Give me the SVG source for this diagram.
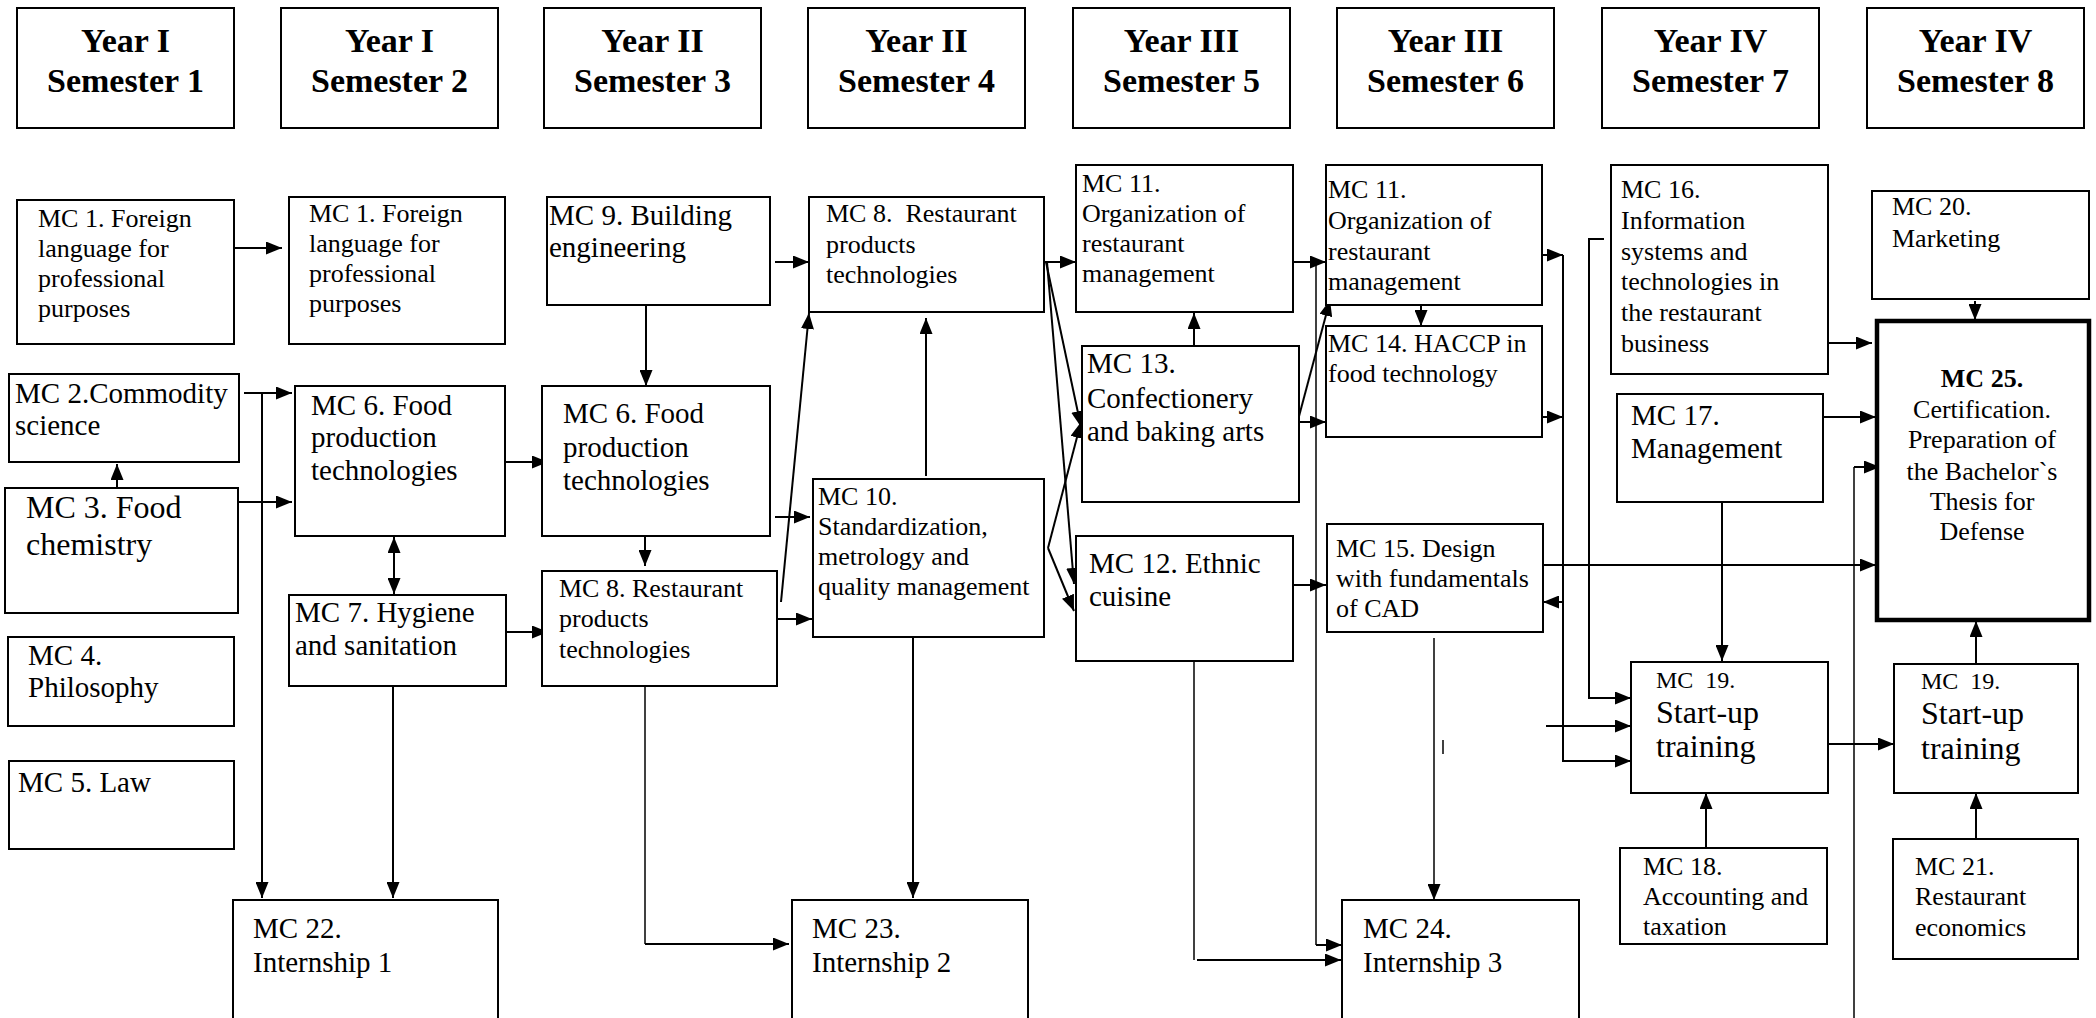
<svg xmlns="http://www.w3.org/2000/svg" width="2096" height="1018" viewBox="0 0 2096 1018">
<style>
text{font-family:"Liberation Serif","Times New Roman",serif;fill:#000}
.hdr{font-weight:bold;font-size:34px;text-anchor:middle}
.box{fill:#fff;stroke:#000;stroke-width:2}
.thick{fill:#fff;stroke:#000;stroke-width:4.5}
.s{font-size:26px}
.m{font-size:29px}
.l{font-size:32px}
.xs{font-size:24px}
.c{fill:none;stroke:#000;stroke-width:2}
.th{fill:none;stroke:#000;stroke-width:1.5}
</style>
<defs>
<marker id="a" markerUnits="userSpaceOnUse" markerWidth="16" markerHeight="13" refX="16" refY="6.5" orient="auto-start-reverse"><path d="M0,0 L16,6.5 L0,13 z" fill="#000"/></marker>
</defs>
<rect width="2096" height="1018" fill="#fff"/>

<g id="headers">
<g id="h1"><rect class="box" x="17" y="8" width="217" height="120"/><text class="hdr" x="125.5" y="52">Year I</text><text class="hdr" x="125.5" y="92">Semester 1</text></g>
<g id="h2"><rect class="box" x="281" y="8" width="217" height="120"/><text class="hdr" x="389.5" y="52">Year I</text><text class="hdr" x="389.5" y="92">Semester 2</text></g>
<g id="h3"><rect class="box" x="544" y="8" width="217" height="120"/><text class="hdr" x="652.5" y="52">Year II</text><text class="hdr" x="652.5" y="92">Semester 3</text></g>
<g id="h4"><rect class="box" x="808" y="8" width="217" height="120"/><text class="hdr" x="916.5" y="52">Year II</text><text class="hdr" x="916.5" y="92">Semester 4</text></g>
<g id="h5"><rect class="box" x="1073" y="8" width="217" height="120"/><text class="hdr" x="1181.5" y="52">Year III</text><text class="hdr" x="1181.5" y="92">Semester 5</text></g>
<g id="h6"><rect class="box" x="1337" y="8" width="217" height="120"/><text class="hdr" x="1445.5" y="52">Year III</text><text class="hdr" x="1445.5" y="92">Semester 6</text></g>
<g id="h7"><rect class="box" x="1602" y="8" width="217" height="120"/><text class="hdr" x="1710.5" y="52">Year IV</text><text class="hdr" x="1710.5" y="92">Semester 7</text></g>
<g id="h8"><rect class="box" x="1867" y="8" width="217" height="120"/><text class="hdr" x="1975.5" y="52">Year IV</text><text class="hdr" x="1975.5" y="92">Semester 8</text></g>
</g>

<g id="connectors">
<path class="c" d="M234,248 H282" marker-end="url(#a)"/>
<path class="c" d="M244,393 H292" marker-end="url(#a)"/>
<path class="c" d="M238,502 H292" marker-end="url(#a)"/>
<path class="c" d="M262,393 V898" marker-end="url(#a)"/>
<path class="c" d="M117,488 V464" marker-end="url(#a)"/>
<path class="c" d="M394,537 V594" marker-start="url(#a)" marker-end="url(#a)"/>
<path class="c" d="M393,686 V898" marker-end="url(#a)"/>
<path class="c" d="M505,462 H548" marker-end="url(#a)"/>
<path class="c" d="M506,632 H548" marker-end="url(#a)"/>
<path class="c" d="M775,262 H809" marker-end="url(#a)"/>
<path class="c" d="M646,305 V386" marker-end="url(#a)"/>
<path class="c" d="M775,517 H810" marker-end="url(#a)"/>
<path class="c" d="M645,536 V566" marker-end="url(#a)"/>
<path class="c" d="M777,619 H812" marker-end="url(#a)"/>
<path class="c" d="M781,602 L809,313" marker-end="url(#a)"/>
<path class="c" d="M926,476 V318" marker-end="url(#a)"/>
<path class="c" d="M913,637 V898" marker-end="url(#a)"/>
<path class="th" d="M645,686 V944"/>
<path class="c" d="M645,944 H789" marker-end="url(#a)"/>
<path class="c" d="M1044,262 H1076" marker-end="url(#a)"/>
<path class="c" d="M1046,262 L1081,427" marker-end="url(#a)"/>
<path class="c" d="M1047,262 L1074,584" marker-end="url(#a)"/>
<path class="c" d="M1048,548 L1081,422" marker-end="url(#a)"/>
<path class="c" d="M1048,548 L1074,611" marker-end="url(#a)"/>
<path class="c" d="M1194,346 V313" marker-end="url(#a)"/>
<path class="c" d="M1293,262 H1326" marker-end="url(#a)"/>
<path class="c" d="M1298,422 H1326" marker-end="url(#a)"/>
<path class="c" d="M1298,420 L1330,300" marker-end="url(#a)"/>
<path class="c" d="M1293,585 H1326" marker-end="url(#a)"/>
<path class="th" d="M1316,262 V945"/>
<path class="c" d="M1316,945 H1342" marker-end="url(#a)"/>
<path class="th" d="M1194,661 V960"/>
<path class="c" d="M1197,960 H1341" marker-end="url(#a)"/>
<path class="c" d="M1421,299 V326" marker-end="url(#a)"/>
<path class="th" d="M1434,638 V900" marker-end="url(#a)"/>
<path class="th" d="M1443,740 V754"/>
<path class="c" d="M1543,255 H1563" marker-end="url(#a)"/>
<path class="c" d="M1543,417 H1563" marker-end="url(#a)"/>
<path class="c" d="M1563,255 V761 H1631" marker-end="url(#a)"/>
<path class="c" d="M1563,602 H1543" marker-end="url(#a)"/>
<path class="c" d="M1543,565 H1876" marker-end="url(#a)"/>
<path class="c" d="M1604,239 H1589 V698 H1631" marker-end="url(#a)"/>
<path class="c" d="M1546,726 H1631" marker-end="url(#a)"/>
<path class="c" d="M1828,343 H1872" marker-end="url(#a)"/>
<path class="c" d="M1823,417 H1876" marker-end="url(#a)"/>
<path class="c" d="M1722,502 V661" marker-end="url(#a)"/>
<path class="c" d="M1975,301 V320" marker-end="url(#a)"/>
<path class="th" d="M1854,1018 V467"/>
<path class="c" d="M1854,467 H1880" marker-end="url(#a)"/>
<path class="c" d="M1827,744 H1894" marker-end="url(#a)"/>
<path class="c" d="M1706,848 V793" marker-end="url(#a)"/>
<path class="c" d="M1976,839 V793" marker-end="url(#a)"/>
<path class="c" d="M1976,664 V621" marker-end="url(#a)"/>
</g>

<g id="mc1a"><rect class="box" x="17" y="200" width="217" height="144"/><text class="s"><tspan x="38" y="227">MC 1. Foreign</tspan><tspan x="38" y="257">language for</tspan><tspan x="38" y="287">professional</tspan><tspan x="38" y="317">purposes</tspan></text></g>
<g id="mc1b"><rect class="box" x="289" y="197" width="216" height="147"/><text class="s"><tspan x="309" y="222">MC 1. Foreign</tspan><tspan x="309" y="252">language for</tspan><tspan x="309" y="282">professional</tspan><tspan x="309" y="312">purposes</tspan></text></g>
<g id="mc2"><rect class="box" x="9" y="374" width="230" height="88"/><text class="m"><tspan x="15" y="403">MC 2.Commodity</tspan><tspan x="15" y="435">science</tspan></text></g>
<g id="mc3"><rect class="box" x="5" y="488" width="233" height="125"/><text class="l"><tspan x="26" y="518">MC 3. Food</tspan><tspan x="26" y="555">chemistry</tspan></text></g>
<g id="mc4"><rect class="box" x="8" y="637" width="226" height="89"/><text class="m"><tspan x="28" y="665">MC 4.</tspan><tspan x="28" y="697">Philosophy</tspan></text></g>
<g id="mc5"><rect class="box" x="9" y="761" width="225" height="88"/><text class="m" x="18" y="792">MC 5. Law</text></g>
<g id="mc6a"><rect class="box" x="295" y="386" width="210" height="150"/><text class="m"><tspan x="311" y="415">MC 6. Food</tspan><tspan x="311" y="447">production</tspan><tspan x="311" y="480">technologies</tspan></text></g>
<g id="mc7"><rect class="box" x="289" y="595" width="217" height="91"/><text class="m"><tspan x="295" y="622">MC 7. Hygiene</tspan><tspan x="295" y="655">and sanitation</tspan></text></g>
<g id="mc22"><rect class="box" x="233" y="900" width="265" height="130"/><text class="m"><tspan x="253" y="938">MC 22.</tspan><tspan x="253" y="972">Internship 1</tspan></text></g>
<g id="mc9"><rect class="box" x="547" y="197" width="223" height="108"/><text class="m"><tspan x="549" y="225">MC 9. Building</tspan><tspan x="549" y="257">engineering</tspan></text></g>
<g id="mc6b"><rect class="box" x="542" y="386" width="228" height="150"/><text class="m"><tspan x="563" y="423">MC 6. Food</tspan><tspan x="563" y="457">production</tspan><tspan x="563" y="490">technologies</tspan></text></g>
<g id="mc8a"><rect class="box" x="542" y="571" width="235" height="115"/><text class="s"><tspan x="559" y="597">MC 8. Restaurant</tspan><tspan x="559" y="627">products</tspan><tspan x="559" y="658">technologies</tspan></text></g>
<g id="mc23"><rect class="box" x="792" y="900" width="236" height="130"/><text class="m"><tspan x="812" y="938">MC 23.</tspan><tspan x="812" y="972">Internship 2</tspan></text></g>
<g id="mc8b"><rect class="box" x="809" y="197" width="235" height="115"/><text class="s" xml:space="preserve"><tspan x="826" y="222">MC 8.  Restaurant</tspan><tspan x="826" y="253">products</tspan><tspan x="826" y="283">technologies</tspan></text></g>
<g id="mc10"><rect class="box" x="813" y="479" width="231" height="158"/><text class="s"><tspan x="818" y="505">MC 10.</tspan><tspan x="818" y="535">Standardization,</tspan><tspan x="818" y="565">metrology and</tspan><tspan x="818" y="595">quality management</tspan></text></g>
<g id="mc11a"><rect class="box" x="1076" y="165" width="217" height="147"/><text class="s"><tspan x="1082" y="192">MC 11.</tspan><tspan x="1082" y="222">Organization of</tspan><tspan x="1082" y="252">restaurant</tspan><tspan x="1082" y="282">management</tspan></text></g>
<g id="mc13"><rect class="box" x="1082" y="346" width="217" height="156"/><text class="m"><tspan x="1087" y="373">MC 13.</tspan><tspan x="1087" y="408">Confectionery</tspan><tspan x="1087" y="441">and baking arts</tspan></text></g>
<g id="mc12"><rect class="box" x="1076" y="536" width="217" height="125"/><text class="m"><tspan x="1089" y="573">MC 12. Ethnic</tspan><tspan x="1089" y="606">cuisine</tspan></text></g>
<g id="mc11b"><rect class="box" x="1326" y="165" width="216" height="140"/><text class="s"><tspan x="1328" y="198">MC 11.</tspan><tspan x="1328" y="229">Organization of</tspan><tspan x="1328" y="260">restaurant</tspan><tspan x="1328" y="290">management</tspan></text></g>
<g id="mc14"><rect class="box" x="1326" y="326" width="216" height="111"/><text class="s"><tspan x="1328" y="352">MC 14. HACCP in</tspan><tspan x="1328" y="382">food technology</tspan></text></g>
<g id="mc15"><rect class="box" x="1327" y="524" width="216" height="108"/><text class="s"><tspan x="1336" y="557">MC 15. Design</tspan><tspan x="1336" y="587">with fundamentals</tspan><tspan x="1336" y="617">of CAD</tspan></text></g>
<g id="mc24"><rect class="box" x="1342" y="900" width="237" height="130"/><text class="m"><tspan x="1363" y="938">MC 24.</tspan><tspan x="1363" y="972">Internship 3</tspan></text></g>
<g id="mc16"><rect class="box" x="1611" y="165" width="217" height="209"/><text class="s"><tspan x="1621" y="198">MC 16.</tspan><tspan x="1621" y="229">Information</tspan><tspan x="1621" y="260">systems and</tspan><tspan x="1621" y="290">technologies in</tspan><tspan x="1621" y="321">the restaurant</tspan><tspan x="1621" y="352">business</tspan></text></g>
<g id="mc17"><rect class="box" x="1617" y="394" width="206" height="108"/><text class="m"><tspan x="1631" y="425">MC 17.</tspan><tspan x="1631" y="458">Management</tspan></text></g>
<g id="mc19a"><rect class="box" x="1631" y="662" width="197" height="131"/><text class="xs" x="1656" y="688" xml:space="preserve">MC  19.</text><text class="l"><tspan x="1656" y="723">Start-up</tspan><tspan x="1656" y="757">training</tspan></text></g>
<g id="mc18"><rect class="box" x="1620" y="848" width="207" height="96"/><text class="s"><tspan x="1643" y="875">MC 18.</tspan><tspan x="1643" y="905">Accounting and</tspan><tspan x="1643" y="935">taxation</tspan></text></g>
<g id="mc20"><rect class="box" x="1872" y="191" width="217" height="108"/><text class="s"><tspan x="1892" y="215">MC 20.</tspan><tspan x="1892" y="247">Marketing</tspan></text></g>
<g id="mc25"><rect class="thick" x="1877" y="321" width="212" height="299"/><text class="s" text-anchor="middle"><tspan x="1982" y="387" font-weight="bold">MC 25.</tspan><tspan x="1982" y="418">Certification.</tspan><tspan x="1982" y="448">Preparation of</tspan><tspan x="1982" y="480">the Bachelor`s</tspan><tspan x="1982" y="510">Thesis for</tspan><tspan x="1982" y="540">Defense</tspan></text></g>
<g id="mc19b"><rect class="box" x="1894" y="664" width="184" height="129"/><text class="xs" x="1921" y="689" xml:space="preserve">MC  19.</text><text class="l"><tspan x="1921" y="724">Start-up</tspan><tspan x="1921" y="759">training</tspan></text></g>
<g id="mc21"><rect class="box" x="1893" y="839" width="185" height="120"/><text class="s"><tspan x="1915" y="875">MC 21.</tspan><tspan x="1915" y="905">Restaurant</tspan><tspan x="1915" y="936">economics</tspan></text></g>
</svg>
